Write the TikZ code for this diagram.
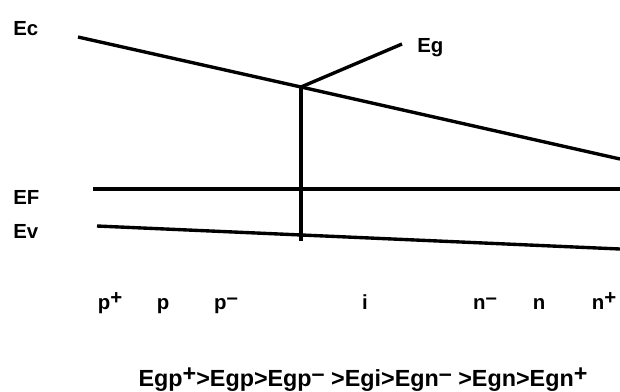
\documentclass[tikz,border=0pt]{standalone}
\usepackage{fontspec}
\setmainfont{Liberation Sans}
\newcommand{\chg}[1]{\raisebox{0.4ex}{#1}}
\tikzset{band/.style={line width=2.4pt},
  lbl/.style={font=\bfseries\fontsize{14.5}{14.5}\selectfont, inner sep=0pt}}

\begin{document}
\begin{tikzpicture}[x=0.025cm,y=-0.025cm]
\useasboundingbox (0,0) rectangle (620,391);
% band edges
\coordinate (ecl) at (78,37);
\coordinate (jn) at (301,87);
\coordinate (ecr) at (620,159);
\coordinate (egt) at (402,44);
\coordinate (vb) at (301,241);
\coordinate (efl) at (93,189);
\coordinate (efr) at (620,189);
\coordinate (evl) at (97,226);
\coordinate (evr) at (620,249);
\draw[band] (ecl) -- (jn) -- (ecr);
\draw[band] (jn) -- (egt);
\draw[band] (jn) -- (vb);
\draw[band] (efl) -- (efr);
\draw[band] (evl) -- (evr);
% level names
\node[lbl, anchor=base west] (ec) at (13,35) {Ec};
\node[lbl, anchor=base west] (eg) at (417,52) {Eg};
\node[lbl, anchor=base west] (ef) at (13,204) {EF};
\node[lbl, anchor=base west] (ev) at (13,238) {Ev};
% regions
\node[lbl, anchor=base] (pp) at (110,309) {p\chg{+}};
\node[lbl, anchor=base] (p) at (163,309) {p};
\node[lbl, anchor=base] (pm) at (226,309) {p\chg{\textendash}};
\node[lbl, anchor=base] (i) at (365,309) {i};
\node[lbl, anchor=base] (nm) at (485,309) {n\chg{\textendash}};
\node[lbl, anchor=base] (n) at (539,309) {n};
\node[lbl, anchor=base] (np) at (604,309) {n\chg{+}};
\node[lbl, anchor=base, font=\bfseries\fontsize{16.6}{16.6}\selectfont] (order) at (363,386)
  {Egp\chg{+}>Egp>Egp\chg{\textendash} >Egi>Egn\chg{\textendash} >Egn>Egn\chg{+}};
\end{tikzpicture}
\end{document}
